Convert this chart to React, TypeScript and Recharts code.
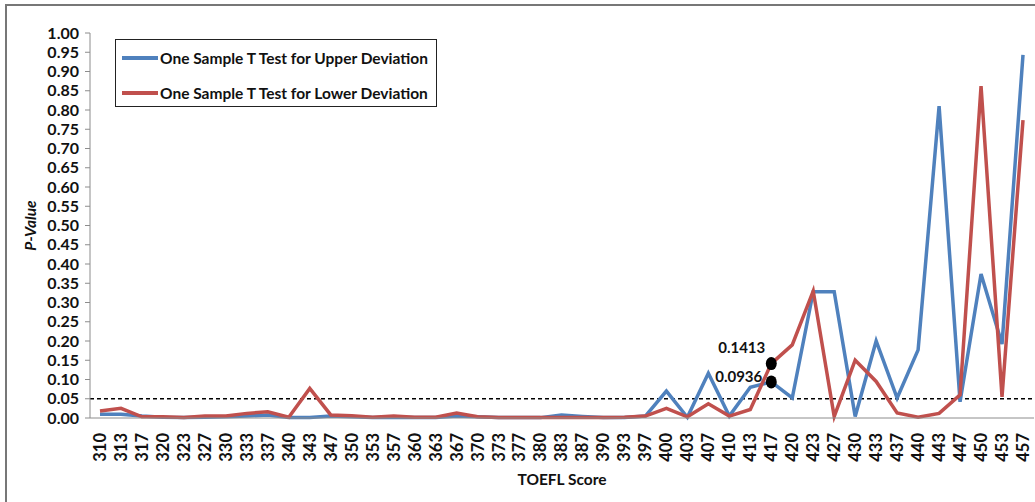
import { LineChart, Line, XAxis, YAxis, ReferenceLine, Label } from 'recharts';

const scores = [
    '310', '313', '317', '320', '323', '327', '330', '333', '337', '340',
    '343', '347', '350', '353', '357', '360', '363', '367', '370', '373',
    '377', '380', '383', '387', '390', '393', '397', '400', '403', '407',
    '410', '413', '417', '420', '423', '427', '430', '433', '437', '440',
    '443', '447', '450', '453', '457',
];

const upperDeviation = [
    0.010, 0.010, 0.005, 0.002, 0.001, 0.002, 0.003, 0.005, 0.008, 0.001,
    0.001, 0.005, 0.003, 0.001, 0.002, 0.001, 0.001, 0.005, 0.003, 0.001,
    0.001, 0.001, 0.008, 0.004, 0.001, 0.001, 0.005, 0.070, 0.002, 0.116,
    0.005, 0.080, 0.0936, 0.052, 0.328, 0.328, 0.004, 0.200, 0.052, 0.177,
    0.810, 0.042, 0.374, 0.192, 0.943,
];

const lowerDeviation = [
    0.018, 0.025, 0.003, 0.003, 0.001, 0.005, 0.005, 0.012, 0.016, 0.002,
    0.077, 0.008, 0.006, 0.002, 0.005, 0.002, 0.002, 0.013, 0.003, 0.001,
    0.001, 0.001, 0.001, 0.001, 0.001, 0.002, 0.005, 0.025, 0.003, 0.037,
    0.005, 0.022, 0.1413, 0.190, 0.330, 0.004, 0.150, 0.095, 0.013, 0.002,
    0.012, 0.060, 0.862, 0.055, 0.774,
];

const seriesNames = ['One Sample T Test for Upper Deviation', 'One Sample T Test for Lower Deviation'];
const yTicks = Array.from({ length: 21 }, (_, i) => i * 0.05);
const significance = 0.05;
const markedScore = '417';

const BLUE = '#4F81BD';
const RED = '#C0504D';
const FONT = 'Lato, "Open Sans", sans-serif';

const data = scores.map((s, i) => ({
    score: s,
    upper: upperDeviation[i],
    lower: lowerDeviation[i],
}));

// black dot + value label on the highlighted score only
const markDot = (dx: number, dy: number) => (props: any) => {
    const { cx, cy, payload, value, index } = props;
    if (payload.score !== markedScore) return <g key={index} />;
    return (
        <g key={index}>
            <ellipse cx={cx} cy={cy} rx={5.5} ry={6.5} fill="#000" />
            <text x={cx + dx} y={cy + dy} textAnchor="end" dominantBaseline="central"
                fontFamily={FONT} fontWeight={700} fontSize={15} fill="#111">
                {value.toFixed(4)}
            </text>
        </g>
    );
};

const XTick = ({ x, y, payload }: any) => (
    <g transform={`translate(${x},${y + 7})`}>
        <text x={0} y={0} dy="0.36em" transform="rotate(-90)" textAnchor="end"
            fontFamily={FONT} fontWeight={700} fontSize={16.5} fill="#111">
            {payload.value}
        </text>
    </g>
);

export default function App() {
    return (
        <div style={{ position: 'absolute', left: 0, top: 0, width: 1035, height: 502, background: '#fff', overflow: 'hidden' }}>
            {/* chart frame, only the top and left edges are in view */}
            <div style={{ position: 'absolute', left: 5, top: 4, width: 1040, height: 510, borderLeft: '2px solid #777', borderTop: '2px solid #777' }} />
            <LineChart width={1035} height={502} data={data}
                margin={{ top: 33, right: 1, left: 0, bottom: 0 }}>
                <XAxis dataKey="score" interval={0} height={84} tick={<XTick />}
                    padding={{ left: 10, right: 11 }}
                    tickLine={false} axisLine={{ stroke: '#8c8c8c' }}>
                    <Label value="TOEFL Score" position="insideBottom" offset={17}
                        style={{ fontFamily: FONT, fontWeight: 700, fontSize: 15.5, fill: '#111' }} />
                </XAxis>
                <YAxis domain={[0, 1]} ticks={yTicks} interval={0} width={90}
                    tickFormatter={(v: number) => v.toFixed(2)}
                    tick={{ fontFamily: FONT, fontWeight: 700, fontSize: 16, fill: '#111' }}
                    tickLine={{ stroke: '#8c8c8c' }} tickSize={5} tickMargin={6}
                    axisLine={{ stroke: '#8c8c8c' }}>
                    <Label value="P-Value" angle={-90} position="insideLeft" offset={30}
                        style={{ fontFamily: FONT, fontWeight: 700, fontStyle: 'italic', fontSize: 15.5, fill: '#111', textAnchor: 'middle' }} />
                </YAxis>
                <ReferenceLine y={significance} stroke="#000" strokeWidth={1.3} strokeDasharray="4 3" />
                <Line type="linear" dataKey="upper" name={seriesNames[0]}
                    stroke={BLUE} strokeWidth={3.5} dot={markDot(-9, -6)} activeDot={false}
                    isAnimationActive={false} />
                <Line type="linear" dataKey="lower" name={seriesNames[1]}
                    stroke={RED} strokeWidth={3.5} dot={markDot(-6, -17)} activeDot={false}
                    isAnimationActive={false} />
            </LineChart>
            {/* legend box */}
            <div style={{ position: 'absolute', left: 115, top: 39, width: 322, height: 68, border: '1.5px solid #222', background: '#fff', fontFamily: FONT, fontWeight: 700, fontSize: 15.5, color: '#111', paddingLeft: 6, boxSizing: 'border-box' }}>
                {seriesNames.map((t, i) => (
                    <div key={t} style={{ display: 'flex', alignItems: 'center', height: 33, marginTop: i === 0 ? 1 : 2 }}>
                        <span style={{ display: 'inline-block', width: 36, height: 4, background: i === 0 ? BLUE : RED, marginRight: 2 }} />
                        {t}
                    </div>
                ))}
            </div>
        </div>
    );
}
